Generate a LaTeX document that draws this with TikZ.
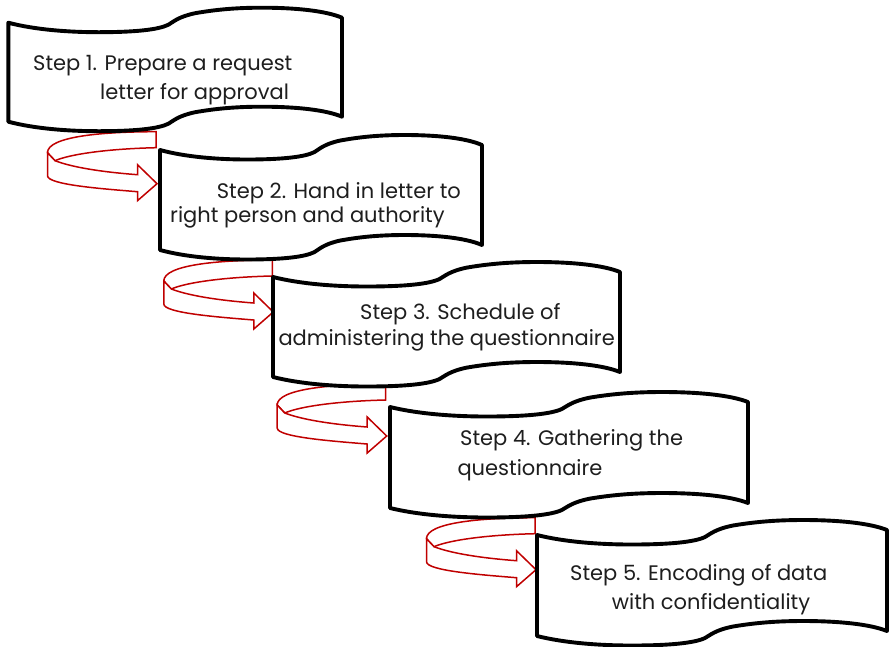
\documentclass[tikz,border=0pt]{standalone}
\usepackage{fontspec}
\setmainfont{Poppins}
\definecolor{arrowred}{RGB}{192,0,0}
\definecolor{textgray}{RGB}{30,30,30}

% Wavy banner: left x, right x, top-left y, height
\newcommand\wavebox[4]{%
  \pgfmathsetmacro\bannerw{#2-#1}%
  \begin{scope}[shift={(#1,#3)}, x=\bannerw pt, y=-1pt]
    \draw[stepbox] (0,0)
      .. controls (0.08,7) and (0.18,9.5) .. (0.27,9.5)
      .. controls (0.38,9.5) and (0.45,7) .. (0.48,2)
      .. controls (0.495,-1) and (0.51,-6) .. (0.56,-9.5)
      .. controls (0.62,-13) and (0.68,-15) .. (0.76,-15)
      .. controls (0.86,-15) and (0.95,-12) .. (1,-5)
      -- (1,{#4-5})
      .. controls (0.95,{#4-12}) and (0.86,{#4-15}) .. (0.76,{#4-15})
      .. controls (0.68,{#4-15}) and (0.62,{#4-13}) .. (0.56,{#4-9.5})
      .. controls (0.51,{#4-6}) and (0.495,{#4-1}) .. (0.48,{#4+2})
      .. controls (0.45,{#4+7}) and (0.38,{#4+9.5}) .. (0.27,{#4+9.5})
      .. controls (0.18,{#4+9.5}) and (0.08,{#4+7}) .. (0,#4)
      -- cycle;
  \end{scope}}

% Curved turn-back arrow, placed by the top right corner of its tail
\newcommand\turnback[3]{%
  \coordinate (#1) at (#2,#3);
  \begin{scope}[shift={(#1)}]
    \draw[turnarrow] (0,0) .. controls (-55,0) and (-108.5,5) .. (-108.5,21)
      -- (-101,29) .. controls (-85,22) and (-45,17) .. (0,16) -- cycle;
    \draw[turnarrow] (-101,29) .. controls (-80,37) and (-45,41) .. (-18.5,43)
      -- (-18.5,33) -- (1,52) -- (-18.5,69) -- (-18.5,60)
      .. controls (-55,57) and (-108.5,53) .. (-108.5,44)
      -- (-108.5,21) -- cycle;
  \end{scope}}

\begin{document}
\begin{tikzpicture}[x=1pt, y=-1pt,
  stepbox/.style={draw=black, line width=3.9pt, line join=round, fill=white},
  turnarrow/.style={draw=arrowred, line width=1.5pt, line join=miter, fill=white},
  steptext/.style={anchor=base west, inner sep=0pt, text=textgray,
    font=\fontsize{21}{25}\selectfont}]
  \useasboundingbox (0,0) rectangle (890,646);

  % turn arrows between the steps
  \turnback{turn1}{156}{131.7}
  \turnback{turn2}{272.3}{260}
  \turnback{turn3}{385.7}{384}
  \turnback{turn4}{535}{517.7}

  % step banners
  \wavebox{8.3}{342}{22.7}{99}
  \wavebox{160}{482}{150}{100}
  \wavebox{273}{620}{277}{100}
  \wavebox{390}{748}{407}{101}
  \wavebox{537}{887}{535}{101}

  % step texts
  \node[steptext] (s1a) at (33,70) {Step 1. Prepare a request};
  \node[steptext] (s1b) at (100,99) {letter for approval};
  \node[steptext] (s2a) at (216.7,198.3) {Step 2. Hand in letter to};
  \node[steptext] (s2b) at (170,222.7) {right person and authority};
  \node[steptext] (s3a) at (360,319.3) {Step 3. Schedule of};
  \node[steptext] (s3b) at (278.3,345.7) {administering the questionnaire};
  \node[steptext] (s4a) at (460,445) {Step 4. Gathering the};
  \node[steptext] (s4b) at (457.3,475) {questionnaire};
  \node[steptext] (s5a) at (570,580) {Step 5. Encoding of data};
  \node[steptext] (s5b) at (611.7,609.3) {with confidentiality};
\end{tikzpicture}
\end{document}
